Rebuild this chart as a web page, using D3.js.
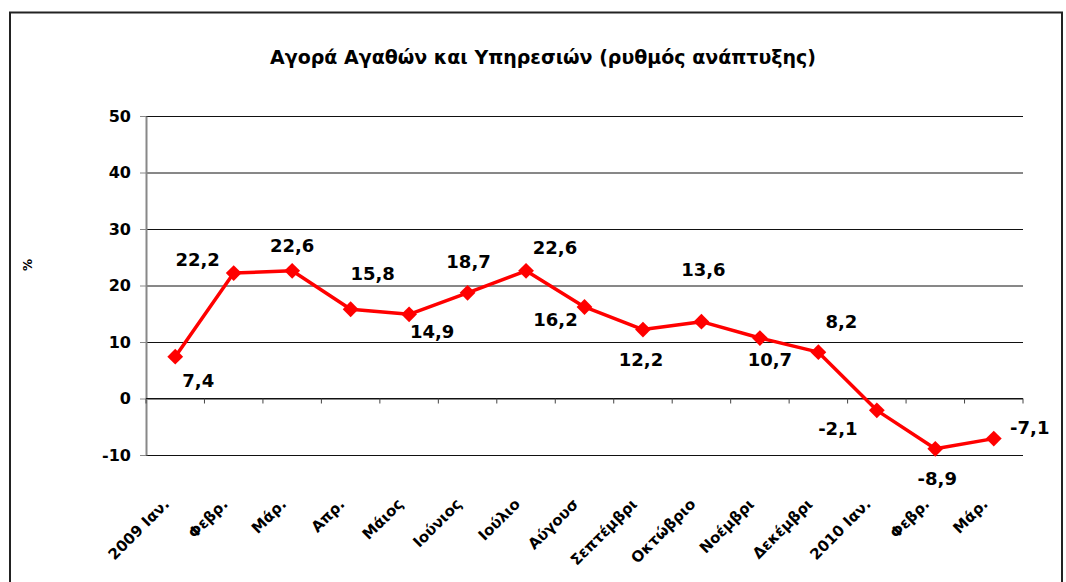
<!DOCTYPE html>
<html>
<head>
<meta charset="utf-8">
<script src="https://cdn.jsdelivr.net/npm/d3@7"></script>
<style>
  body { margin: 0; background: #fff; }
  text { font-family: "DejaVu Sans", sans-serif; }
</style>
</head>
<body>
<div id="chart"></div>
<script>
// months as shown on the axis (long names are clipped in the original)
var months = ['2009 Ιαν.', 'Φεβρ.', 'Μάρ.', 'Απρ.', 'Μάιος', 'Ιούνιος', 'Ιούλιο',
              'Αύγουσ', 'Σεπτέμβρι', 'Οκτώβριο', 'Νοέμβρι', 'Δεκέμβρι',
              '2010 Ιαν.', 'Φεβρ.', 'Μάρ.'];
var growth = [7.4, 22.2, 22.6, 15.8, 14.9, 18.7, 22.6, 16.2, 12.2, 13.6, 10.7, 8.2, -2.1, -8.9, -7.1];
var yTicks = [-10, 0, 10, 20, 30, 40, 50];
var title = 'Αγορά Αγαθών και Υπηρεσιών (ρυθμός ανάπτυξης)';

// where each value label sits relative to its point
var labelOffsets = [[23, 24], [-36, -14], [0, -25], [22, -36], [23, 17], [1, -31], [29, -23],
                    [-29, 13], [-2, 30], [2, -52], [10, 21], [23, -31], [-39, 18], [2, 30], [36, -11]];

var width = 1066, height = 582;
var margin = { top: 116, right: 43, bottom: 127, left: 146 };
var w = width - margin.left - margin.right;
var h = height - margin.top - margin.bottom;

var svg = d3.select("#chart").append("svg")
  .attr("width", width)
  .attr("height", height);

// outer chart frame
svg.append("rect")
  .attr("x", 10).attr("y", 12.5)
  .attr("width", 1052).attr("height", 600)
  .attr("fill", "none")
  .attr("stroke", "#222")
  .attr("stroke-width", 2);

svg.append("text")
  .attr("x", 543).attr("y", 64)
  .attr("text-anchor", "middle")
  .attr("font-size", 19)
  .attr("font-weight", "bold")
  .text(title);

var g = svg.append("g")
  .attr("transform", "translate(" + margin.left + "," + margin.top + ")");

var xScale = d3.scaleBand()
  .domain(d3.range(months.length))
  .range([0, w]);
var yScale = d3.scaleLinear()
  .domain([-10, 50])
  .range([h, 0]);

// horizontal gridlines
var yGrid = d3.axisLeft(yScale)
  .tickValues(yTicks)
  .tickFormat("")
  .tickSize(-w)
  .tickSizeOuter(0);
g.append("g")
  .attr("class", "grid")
  .call(yGrid)
  .call(function(s) {
    s.select(".domain").remove();
    s.selectAll("line").attr("stroke", "#111").attr("stroke-width", 1);
  });

// y axis
var yAxis = d3.axisLeft(yScale)
  .tickValues(yTicks)
  .tickFormat(function(d) { return String(d); })
  .tickSizeInner(6)
  .tickSizeOuter(0)
  .tickPadding(9);
g.append("g")
  .attr("class", "y axis")
  .call(yAxis)
  .call(function(s) {
    s.select(".domain").attr("stroke", "#888").attr("stroke-width", 2);
    s.selectAll("line").attr("stroke", "#888");
    s.selectAll("text")
      .attr("font-size", 16)
      .attr("font-weight", "bold")
      .attr("fill", "#000")
      .attr("font-family", "DejaVu Sans, sans-serif");
  });

// x axis on the zero line, ticks at the category boundaries
var zeroY = yScale(0);
g.append("line")
  .attr("x1", 0).attr("x2", w)
  .attr("y1", zeroY).attr("y2", zeroY)
  .attr("stroke", "#111");
g.selectAll(".xtick")
  .data(d3.range(months.length + 1))
  .enter()
  .append("line")
  .attr("class", "xtick")
  .attr("x1", function(d) { return d * xScale.step(); })
  .attr("x2", function(d) { return d * xScale.step(); })
  .attr("y1", zeroY)
  .attr("y2", zeroY + 5)
  .attr("stroke", "#444");

// rotated month labels
svg.selectAll(".xlabel")
  .data(months)
  .enter()
  .append("text")
  .attr("class", "xlabel")
  .attr("text-anchor", "end")
  .attr("font-size", 15)
  .attr("font-weight", "bold")
  .attr("transform", function(d, i) {
    var x = margin.left + xScale(i) + xScale.bandwidth() / 2 - 5;
    return "translate(" + x + "," + 505 + ") rotate(-45)";
  })
  .text(function(d) { return d; });

// the series
var cx = function(d, i) { return xScale(i) + xScale.bandwidth() / 2; };
var line = d3.line()
  .x(cx)
  .y(function(d) { return yScale(d); });
g.append("path")
  .datum(growth)
  .attr("d", line)
  .attr("fill", "none")
  .attr("stroke", "#ff0000")
  .attr("stroke-width", 3.5)
  .attr("stroke-linejoin", "round");

var marker = d3.symbol().type(d3.symbolSquare).size(125);
g.selectAll(".marker")
  .data(growth)
  .enter()
  .append("path")
  .attr("class", "marker")
  .attr("d", marker)
  .attr("fill", "#ff0000")
  .attr("transform", function(d, i) {
    return "translate(" + cx(d, i) + "," + yScale(d) + ") rotate(45)";
  });

g.selectAll(".vlabel")
  .data(growth)
  .enter()
  .append("text")
  .attr("class", "vlabel")
  .attr("text-anchor", "middle")
  .attr("font-size", 18)
  .attr("font-weight", "bold")
  .attr("dy", "0.36em")
  .attr("x", function(d, i) { return cx(d, i) + labelOffsets[i][0]; })
  .attr("y", function(d, i) { return yScale(d) + labelOffsets[i][1]; })
  .text(function(d) { return d3.format(".1f")(d).replace(".", ",").replace("−", "-"); });

// y axis title
svg.append("text")
  .attr("transform", "translate(32,265) rotate(-90)")
  .attr("text-anchor", "middle")
  .attr("font-size", 12)
  .attr("font-weight", "bold")
  .text("%");
</script>
</body>
</html>
